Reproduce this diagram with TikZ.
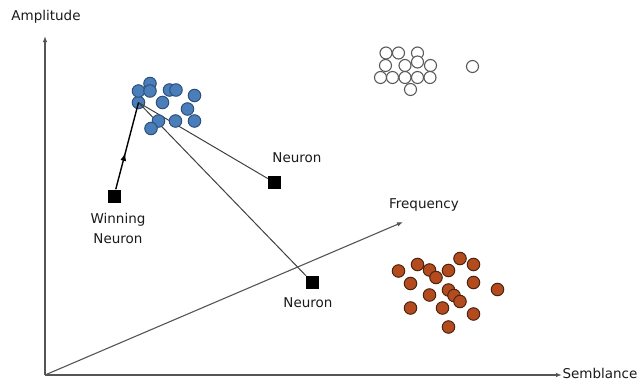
\documentclass[tikz,border=0pt]{standalone}
\usepackage{fontspec}
\setmainfont{DejaVu Sans}
\usetikzlibrary{arrows.meta,decorations.markings}
\definecolor{bluefill}{HTML}{4A7EBB}
\definecolor{blueedge}{HTML}{2D4F7A}
\definecolor{brownfill}{HTML}{B44B1E}
\definecolor{brownedge}{HTML}{4A2410}
\definecolor{whiteedge}{HTML}{5A5A5A}
\definecolor{axisgray}{HTML}{555555}
\definecolor{txt}{HTML}{1A1A1A}
\tikzset{
  dot/.style={circle, minimum size=12.5pt, inner sep=0pt, line width=1pt},
  bdot/.style={dot, fill=bluefill, draw=blueedge},
  rdot/.style={dot, fill=brownfill, draw=brownedge},
  wdot/.style={dot, minimum size=12pt, fill=white, draw=whiteedge, line width=1.1pt},
  neuronbox/.style={rectangle, minimum size=13pt, inner sep=0pt, fill=black},
  lbl/.style={font=\fontsize{13.5}{20}\selectfont, text=txt, inner sep=0pt, align=center},
  axis/.style={draw=axisgray, line width=1.6pt, -{Latex[length=6pt,width=4.5pt]}},
  link/.style={draw=black!75, line width=1pt},
}
\begin{document}
\begin{tikzpicture}[x=1pt,y=-1pt]
\useasboundingbox (0,0) rectangle (640,383);
% axes
\coordinate (O) at (45,375);
\coordinate (ytop) at (45,36);
\coordinate (xend) at (562,375);
\coordinate (zend) at (403,222);
\draw[axis] (O) -- (ytop);
\draw[axis] (O) -- (xend);
\draw[axis, line width=1.1pt] (O) -- (zend);
\node[lbl] (amp) at (46,17) {Amplitude};
\node[lbl] (sem) at (600,373) {Semblance};
\node[lbl] (freq) at (424,205) {Frequency};
% neurons
\node[neuronbox] (wn) at (114,196) {};
\node[neuronbox] (n1) at (274.5,182.5) {};
\node[neuronbox] (n2) at (312.5,282.5) {};
\node[lbl] (wnl) at (118,228) {Winning\\Neuron};
\node[lbl] (n1l) at (297,158) {Neuron};
\node[lbl] (n2l) at (308,303) {Neuron};
% winning circle
\node[bdot] (w) at (138.5,102.5) {};
% connectors
\draw[link] (w.center) -- (n1);
\draw[link] (w.center) -- (n2);
\draw[black, line width=1.4pt, postaction={decorate},
  decoration={markings, mark=at position 0.42 with {\arrow{Latex[length=8pt,width=6pt]}}}]
  (wn) -- (w.center);
% blue cluster
\foreach \x/\y [count=\i] in {138.5/91, 150/83.5, 150/91, 169.5/90, 176/90, 194.5/95.5,
  162.5/102.5, 187.5/109, 158.5/121, 151/128.5, 175.5/121, 194.5/121}
  \node[bdot] (b\i) at (\x,\y) {};
% white cluster
\foreach \x/\y [count=\i] in {386/53, 398.5/53, 417.5/53, 417.5/62, 385.5/65.5, 405/65.5, 430.5/65.5,
  380.5/77.5, 392.5/77.5, 405/77.5, 417.5/77.5, 430/77.5, 410.5/89.5, 472.5/66.5}
  \node[wdot] (c\i) at (\x,\y) {};
% brown cluster
\foreach \x/\y [count=\i] in {398.5/271, 417.5/264.5, 429.5/270, 436/277.5, 448.5/270.5, 460/258.5,
  473.5/264.5, 410.5/283.5, 429.5/295, 448.5/290, 454/295.5, 460/301.5, 473.5/282.5,
  497.5/289.5, 410.5/308, 442.5/308, 473.5/314, 448.5/327}
  \node[rdot] (r\i) at (\x,\y) {};
\end{tikzpicture}
\end{document}
